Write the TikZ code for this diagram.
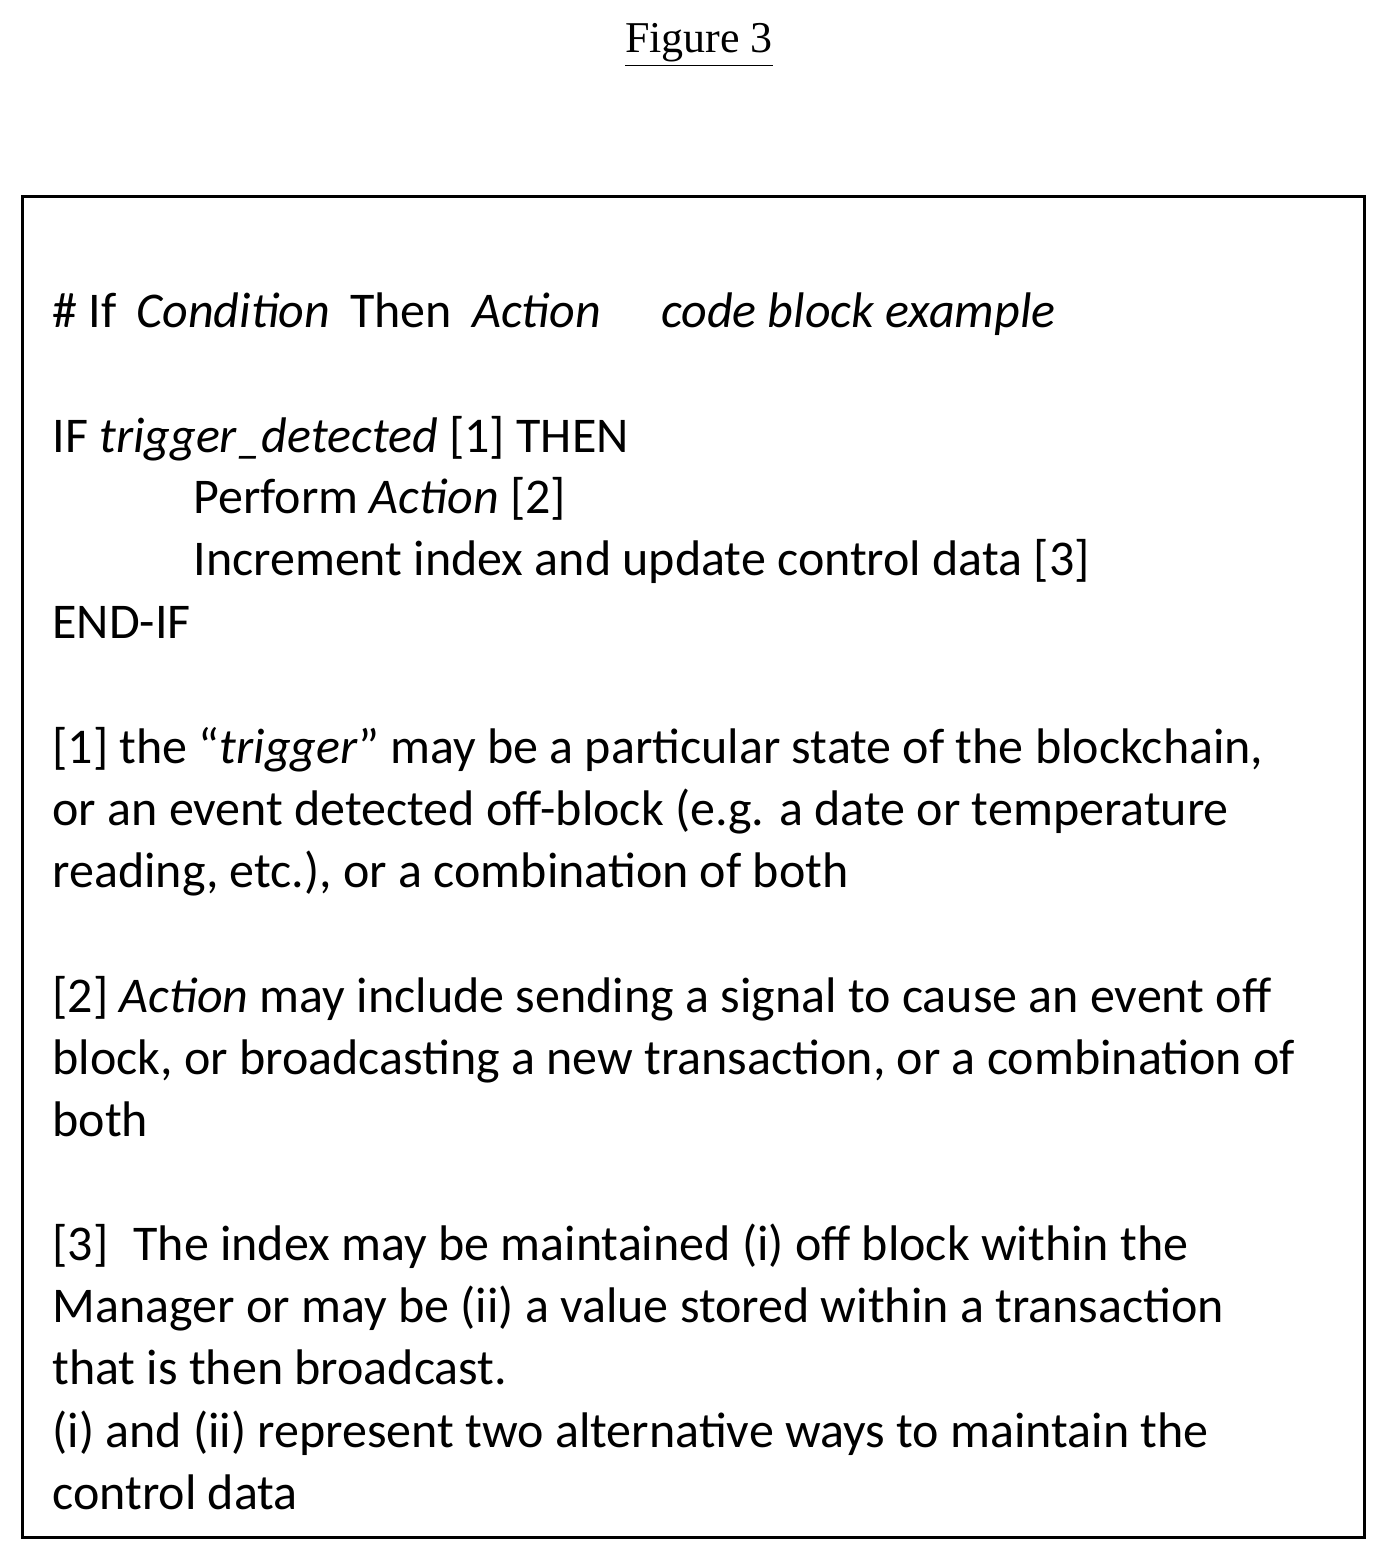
\documentclass[tikz,border=0pt]{standalone}
\usepackage{fontspec}
\setmainfont{Carlito}
\newfontfamily\titlefont{Liberation Serif}
\begin{document}
\begin{tikzpicture}[x=0.5pt,y=-0.5pt,
  ln/.style={anchor=base west,inner sep=0pt,font=\fontsize{25}{30}\selectfont}]
\useasboundingbox (0,0) rectangle (1386,1561);
\node[anchor=base,inner sep=0pt,font=\titlefont\fontsize{22}{26}\selectfont] (title) at (699,53) {\underline{Figure 3}};
\draw[line width=1.5pt] (22,197) rectangle (1364,1537);
\node[ln] (l1) at (52,328) {\# If\hspace{0.4em}\textit{Condition}\hspace{0.4em}Then\hspace{0.4em}\textit{Action}\hspace{1.2em}\textit{code block example}};
\node[ln] (l2) at (52,452) {IF \textit{trigger\_detected} [1] THEN};
\node[ln] (l3) at (193,513) {Perform \textit{Action} [2]};
\node[ln] (l4) at (193,575) {Increment index and update control data [3]};
\node[ln] (l5) at (52,638) {END-IF};
\node[ln] (l6) at (52,763) {[1] the “\textit{trigger}” may be a particular state of the blockchain,};
\node[ln] (l7) at (52,825) {or an event detected off-block (e.g. a date or temperature};
\node[ln] (l8) at (52,887) {reading, etc.), or a combination of both};
\node[ln] (l9) at (52,1012) {[2] \textit{Action} may include sending a signal to cause an event off};
\node[ln] (l10) at (52,1074) {block, or broadcasting a new transaction, or a combination of};
\node[ln] (l11) at (52,1136) {both};
\node[ln] (l12) at (52,1260) {[3]\hspace{0.5em}The index may be maintained (i) off block within the};
\node[ln] (l13) at (52,1322) {Manager or may be (ii) a value stored within a transaction};
\node[ln] (l14) at (52,1384) {that is then broadcast.};
\node[ln] (l15) at (52,1447) {(i) and (ii) represent two alternative ways to maintain the};
\node[ln] (l16) at (52,1509) {control data};
\end{tikzpicture}
\end{document}
